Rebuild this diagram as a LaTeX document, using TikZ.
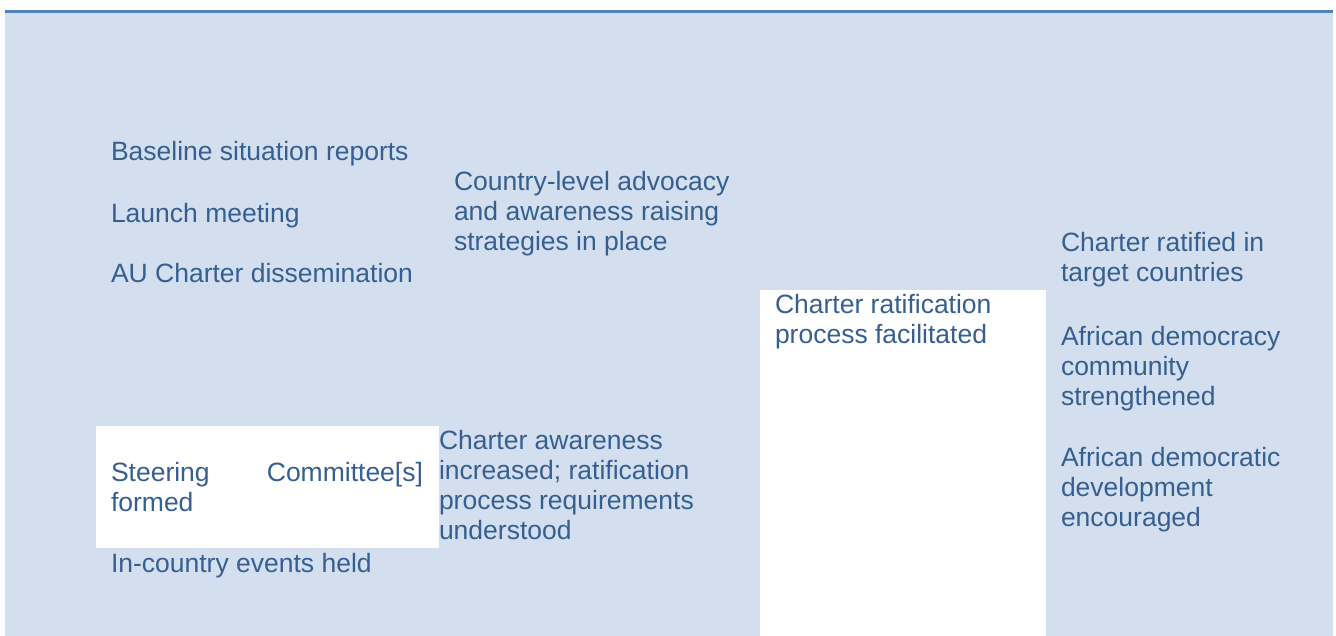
\documentclass[tikz,border=0pt]{standalone}
\usepackage{fontspec}
\setmainfont{Liberation Sans}
\definecolor{bgblue}{HTML}{D3DFEE}
\definecolor{linblue}{HTML}{4F81BD}
\definecolor{txtblue}{HTML}{365F91}
\tikzset{
  lbl/.style={anchor=base west, inner sep=0pt, outer sep=0pt, text=txtblue, align=flush left,
    text width=330pt, font=\fontsize{26.5}{30}\selectfont},
  whitebox/.style={fill=white, draw=none}
}
\begin{document}
\begin{tikzpicture}[x=1pt,y=-1pt]
\useasboundingbox (0,0) rectangle (1336,636);
\fill[white] (0,0) rectangle (1336,636);
\fill[bgblue] (5,13) rectangle (1333,636);
\fill[linblue] (5,10) rectangle (1333,13.5);
\fill[white] (96,426) rectangle (439,548);
\fill[white] (760,290) rectangle (1046,636);
\node[lbl] (a1) at (111,161) {Baseline situation reports};
\node[lbl] (a2) at (111,222.5) {Launch meeting};
\node[lbl] (a3) at (111,282.5) {AU Charter dissemination};
\node[lbl, text width=312pt] (a4) at (111,481.5) {Steering\hfill Committee[s]\\formed};
\node[lbl] (a5) at (111,572.5) {In-country events held};
\node[lbl] (b1) at (454,191) {Country-level advocacy\\and awareness raising\\strategies in place};
\node[lbl] (b2) at (439,449) {Charter awareness\\increased; ratification\\process requirements\\understood};
\node[lbl] (c1) at (775,313.5) {Charter ratification\\process facilitated};
\node[lbl] (d1) at (1061,252) {Charter ratified in\\target countries};
\node[lbl] (d2) at (1061,345.5) {African democracy\\community\\strengthened};
\node[lbl] (d3) at (1061,466.5) {African democratic\\development\\encouraged};
\end{tikzpicture}
\end{document}
